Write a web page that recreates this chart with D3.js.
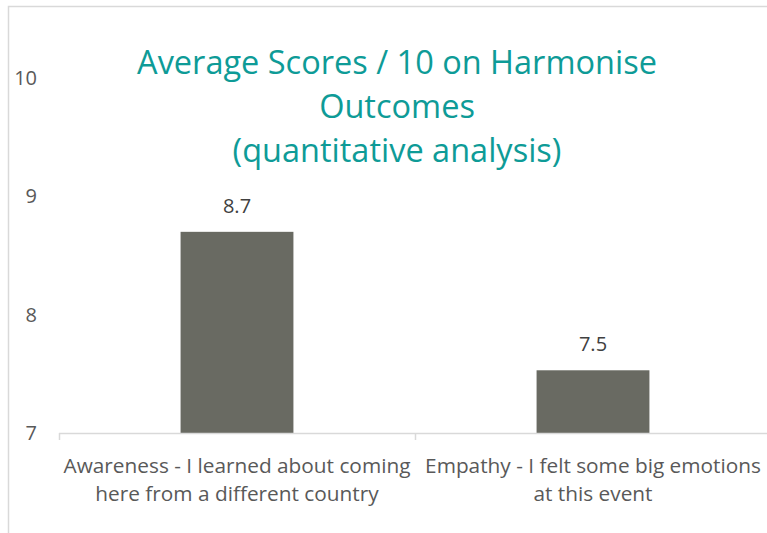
<!DOCTYPE html>
<html>
<head>
<meta charset="utf-8">
<script src="https://cdn.jsdelivr.net/npm/d3@7"></script>
<style>
  body { margin: 0; background: #fff; }
  text { font-family: "Open Sans", sans-serif; }
</style>
</head>
<body>
<script>
const width = 767;
const height = 533;

// data
const categories = [
  ["Awareness - I learned about coming", "here from a different country"],
  ["Empathy - I felt some big emotions", "at this event"]
];
const values = [8.7, 7.53];
const yTicks = [7, 8, 9, 10];
const titleLines = ["Average Scores / 10 on Harmonise", "Outcomes", "(quantitative analysis)"];

const svg = d3.select("body").append("svg")
  .attr("width", width)
  .attr("height", height);

// chart frame (runs off the right and bottom edges)
svg.append("rect")
  .attr("x", 8.5).attr("y", 6.5)
  .attr("width", 800).attr("height", 600)
  .attr("fill", "none")
  .attr("stroke", "#d9d9d9")
  .attr("stroke-width", 1.5);

const x0 = 59, x1 = 771;
const x = d3.scaleBand()
  .domain(d3.range(values.length))
  .range([x0, x1])
  .paddingInner(0.683)
  .paddingOuter(0.3415);

const y = d3.scaleLinear().domain([7, 10]).range([433, 78]);

// y tick labels, no axis line
svg.selectAll("text.ytick")
  .data(yTicks)
  .join("text")
  .attr("class", "ytick")
  .attr("x", 37)
  .attr("y", d => y(d))
  .attr("dy", "0.35em")
  .attr("text-anchor", "end")
  .attr("fill", "#595959")
  .attr("font-size", 20)
  .text(d => d);

// bars
svg.selectAll("rect.bar")
  .data(values)
  .join("rect")
  .attr("class", "bar")
  .attr("x", (d, i) => x(i))
  .attr("y", d => y(d))
  .attr("width", x.bandwidth())
  .attr("height", d => y(7) - y(d))
  .attr("fill", "#696a62");

// value labels
svg.selectAll("text.val")
  .data(values)
  .join("text")
  .attr("class", "val")
  .attr("x", (d, i) => x(i) + x.bandwidth() / 2)
  .attr("y", d => y(d) - 19)
  .attr("text-anchor", "middle")
  .attr("fill", "#404040")
  .attr("font-size", 20)
  .text(d => d3.format(".1f")(d));

// baseline + category dividers
const step = x.step();
svg.append("line")
  .attr("x1", x0).attr("x2", x1)
  .attr("y1", 433.5).attr("y2", 433.5)
  .attr("stroke", "#d9d9d9").attr("stroke-width", 1.5);
svg.selectAll("line.tk")
  .data(d3.range(values.length + 1))
  .join("line")
  .attr("class", "tk")
  .attr("x1", d => x0 + d * step + 0.5)
  .attr("x2", d => x0 + d * step + 0.5)
  .attr("y1", 433).attr("y2", 440)
  .attr("stroke", "#d9d9d9").attr("stroke-width", 1.5);

// category labels
const cat = svg.selectAll("text.cat")
  .data(categories)
  .join("text")
  .attr("class", "cat")
  .attr("text-anchor", "middle")
  .attr("fill", "#595959")
  .attr("font-size", 20.8);
cat.selectAll("tspan")
  .data((d, i) => d.map(l => ({ l, i })))
  .join("tspan")
  .attr("x", d => x(d.i) + x.bandwidth() / 2)
  .attr("y", (d, j) => 472.5 + j * 28)
  .text(d => d.l);

// title
svg.append("text")
  .attr("text-anchor", "middle")
  .attr("fill", "#0e9b97")
  .attr("font-size", 32.5)
  .selectAll("tspan")
  .data(titleLines)
  .join("tspan")
  .attr("x", 397)
  .attr("y", (d, i) => 74 + i * 44)
  .text(d => d);
</script>
</body>
</html>
